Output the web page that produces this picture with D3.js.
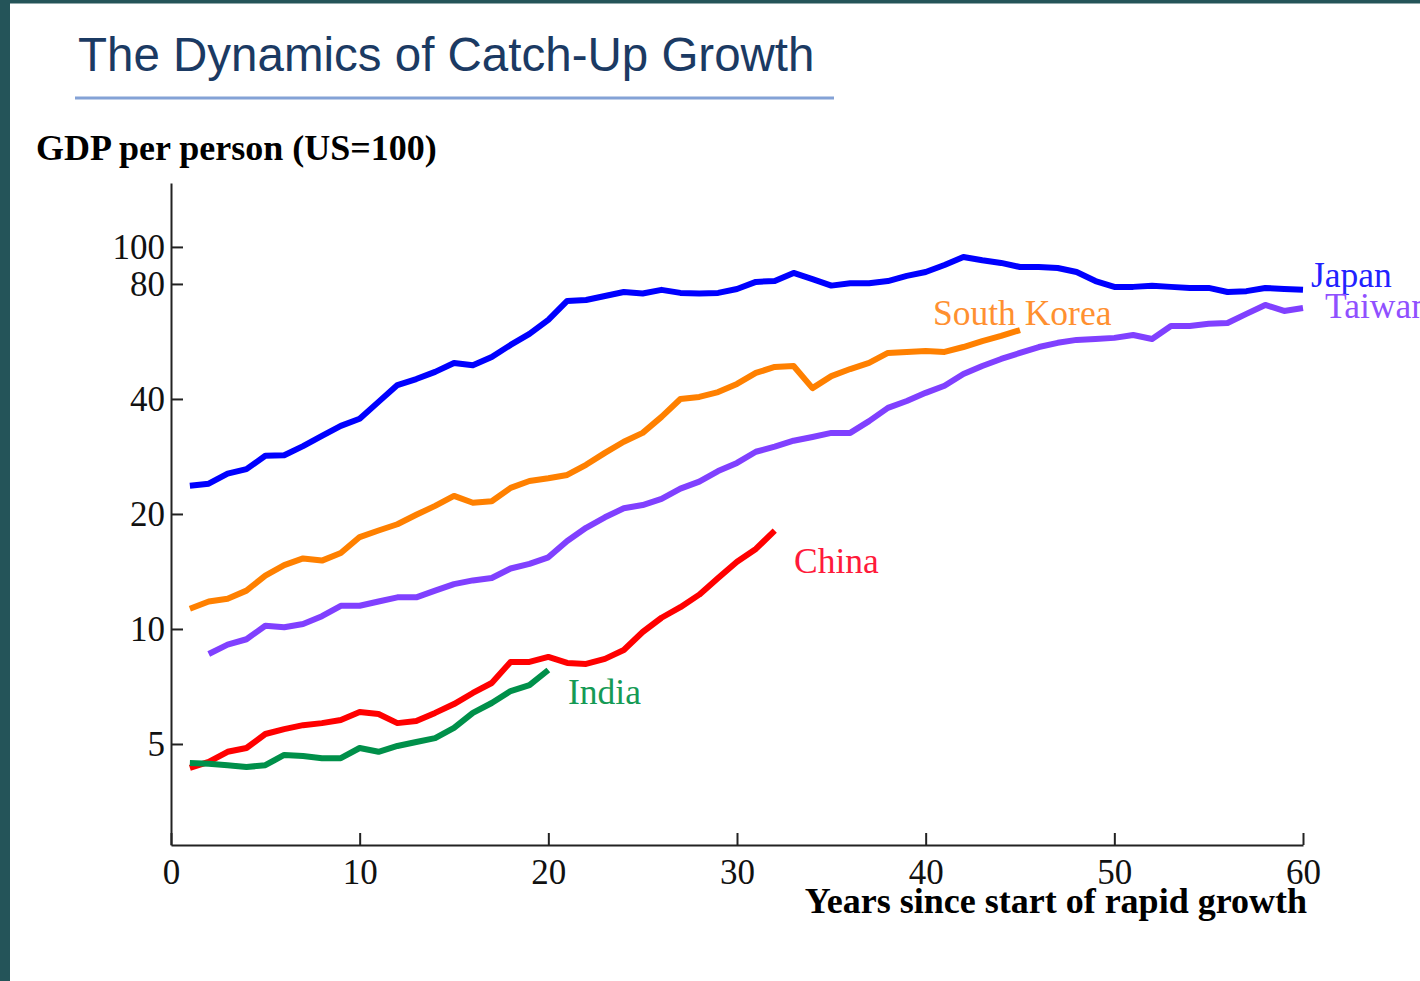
<!DOCTYPE html>
<html>
<head>
<meta charset="utf-8">
<script src="https://cdn.jsdelivr.net/npm/d3@7"></script>
<style>
  html, body { margin: 0; padding: 0; background: #ffffff; }
  svg { display: block; }
</style>
</head>
<body>
<svg id="chart" width="1420" height="981"></svg>
<script>
// ---- data ----
const japanYears = d3.range(1, 61);
const japanValues = [23.7, 24.0, 25.5, 26.2, 28.4, 28.5, 30.1, 32.0, 34.0, 35.5,
  39.3, 43.5, 45.1, 47.1, 49.7, 49.0, 51.5, 55.4, 59.2, 64.4,
  72.2, 72.6, 74.4, 76.2, 75.5, 77.2, 75.8, 75.5, 75.8, 77.6,
  81.0, 81.4, 85.5, 82.4, 79.2, 80.3, 80.3, 81.4, 84.0, 86.0,
  89.7, 94.1, 92.3, 90.8, 88.6, 88.6, 88.1, 86.0, 81.4, 78.6,
  78.6, 79.1, 78.6, 78.1, 78.1, 76.2, 76.6, 78.1, 77.6, 77.2];

const koreaYears = d3.range(1, 46);
const koreaValues = [11.3, 11.8, 12.0, 12.6, 13.8, 14.7, 15.3, 15.1, 15.8, 17.4,
  18.1, 18.8, 19.9, 21.0, 22.3, 21.4, 21.6, 23.4, 24.4, 24.8,
  25.3, 26.9, 28.9, 30.9, 32.6, 35.9, 40.0, 40.5, 41.7, 43.8,
  46.8, 48.5, 48.8, 42.7, 45.9, 47.9, 49.7, 52.8, 53.1, 53.4,
  53.1, 54.7, 56.7, 58.5, 60.6];

const taiwanYears = d3.range(2, 61);
const taiwanValues = [8.6, 9.1, 9.4, 10.2, 10.1, 10.3, 10.8, 11.5, 11.5,
  11.8, 12.1, 12.1, 12.6, 13.1, 13.4, 13.6, 14.4, 14.8, 15.4,
  17.0, 18.4, 19.6, 20.7, 21.1, 21.9, 23.3, 24.3, 25.9, 27.2,
  29.1, 30.0, 31.1, 31.8, 32.6, 32.6, 35.0, 37.9, 39.5, 41.5,
  43.3, 46.5, 48.8, 50.9, 52.8, 54.7, 56.1, 57.1, 57.4, 57.8,
  58.8, 57.4, 62.1, 62.1, 62.9, 63.2, 66.8, 70.5, 68.0, 69.2];

const chinaYears = d3.range(1, 33);
const chinaValues = [4.33, 4.49, 4.77, 4.88, 5.31, 5.47, 5.60, 5.67, 5.78, 6.06,
  5.99, 5.67, 5.74, 6.03, 6.36, 6.80, 7.22, 8.20, 8.20, 8.45,
  8.15, 8.10, 8.35, 8.81, 9.82, 10.7, 11.4, 12.3, 13.6, 15.0,
  16.2, 18.1];

const indiaYears = d3.range(1, 21);
const indiaValues = [4.46, 4.44, 4.40, 4.35, 4.40, 4.68, 4.65, 4.59, 4.59, 4.88,
  4.77, 4.94, 5.06, 5.18, 5.51, 6.03, 6.40, 6.88, 7.13, 7.81];

const seriesNames = ["Japan", "South Korea", "Taiwan", "China", "India"];
const yTickValues = [5, 10, 20, 40, 80, 100];
const xTickValues = [0, 10, 20, 30, 40, 50, 60];

const titleText = "The Dynamics of Catch-Up Growth";
const yAxisTitle = "GDP per person (US=100)";
const xAxisTitle = "Years since start of rapid growth";

// ---- styles ----
const colors = {
  "Japan": "#0000ff",
  "South Korea": "#ff8000",
  "Taiwan": "#8040ff",
  "China": "#ff0000",
  "India": "#00904a"
};
const labelColors = {
  "Japan": "#2222ff",
  "South Korea": "#ff9030",
  "Taiwan": "#9050ff",
  "China": "#ff1a3a",
  "India": "#159a55"
};

const svg = d3.select("#chart");
const serif = "'Liberation Serif', 'Times New Roman', serif";

// frame
svg.append("rect").attr("x", 0).attr("y", 0).attr("width", 1420).attr("height", 981).attr("fill", "#ffffff");
svg.append("rect").attr("x", 0).attr("y", 0).attr("width", 1420).attr("height", 3.5).attr("fill", "#245459");
svg.append("rect").attr("x", 0).attr("y", 0).attr("width", 10).attr("height", 981).attr("fill", "#245459");

// title
svg.append("text")
  .attr("x", 78).attr("y", 71)
  .attr("font-family", "'Liberation Sans', Arial, sans-serif")
  .attr("font-size", 47.5)
  .attr("fill", "#1b3a63")
  .text(titleText);
svg.append("line")
  .attr("x1", 75).attr("x2", 834).attr("y1", 98).attr("y2", 98)
  .attr("stroke", "#84a2d6").attr("stroke-width", 3);

// scales
const x = d3.scaleLinear().domain([0, 60]).range([171, 1303]);
const y = d3.scaleLog().domain([2.72, 147]).range([845, 183]);

// axes
const yAxis = d3.axisLeft(y)
  .tickValues(yTickValues)
  .tickFormat(d3.format("d"))
  .tickSize(-12)
  .tickSizeOuter(0)
  .tickPadding(6);
const gy = svg.append("g").attr("transform", "translate(171,0)").call(yAxis);

const xAxis = d3.axisBottom(x)
  .tickValues(xTickValues)
  .tickFormat(d3.format("d"))
  .tickSize(-12)
  .tickSizeOuter(0)
  .tickPadding(14);
const gx = svg.append("g").attr("transform", "translate(0,845)").call(xAxis);

[gx, gy].forEach(g => {
  g.select(".domain").attr("stroke", "#222").attr("stroke-width", 2);
  g.selectAll(".tick line").attr("stroke", "#222").attr("stroke-width", 2);
  g.selectAll(".tick text")
    .attr("font-family", serif)
    .attr("font-size", 35)
    .attr("fill", "#111");
});

// axis titles
svg.append("text")
  .attr("x", 36).attr("y", 160)
  .attr("font-family", serif)
  .attr("font-weight", "bold")
  .attr("font-size", 36)
  .attr("fill", "#000")
  .text(yAxisTitle);
svg.append("text")
  .attr("x", 1307).attr("y", 913)
  .attr("text-anchor", "end")
  .attr("font-family", serif)
  .attr("font-weight", "bold")
  .attr("font-size", 36)
  .attr("fill", "#000")
  .text(xAxisTitle);

// lines
const line = d3.line().x(d => x(d[0])).y(d => y(d[1]));
const seriesData = {
  "Japan": d3.zip(japanYears, japanValues),
  "South Korea": d3.zip(koreaYears, koreaValues),
  "Taiwan": d3.zip(taiwanYears, taiwanValues),
  "China": d3.zip(chinaYears, chinaValues),
  "India": d3.zip(indiaYears, indiaValues)
};
const drawOrder = ["Taiwan", "South Korea", "Japan", "China", "India"];
drawOrder.forEach(name => {
  svg.append("path")
    .datum(seriesData[name])
    .attr("fill", "none")
    .attr("stroke", colors[name])
    .attr("stroke-width", 6)
    .attr("stroke-linejoin", "round")
    .attr("d", line);
});

// labels
const labelPos = {
  "Japan": [1311, 287],
  "Taiwan": [1325, 318],
  "South Korea": [933, 325],
  "China": [794, 573],
  "India": [568, 704]
};
seriesNames.forEach(name => {
  svg.append("text")
    .attr("x", labelPos[name][0]).attr("y", labelPos[name][1])
    .attr("font-family", serif)
    .attr("font-size", 35.5)
    .attr("fill", labelColors[name])
    .text(name);
});
</script>
</body>
</html>
